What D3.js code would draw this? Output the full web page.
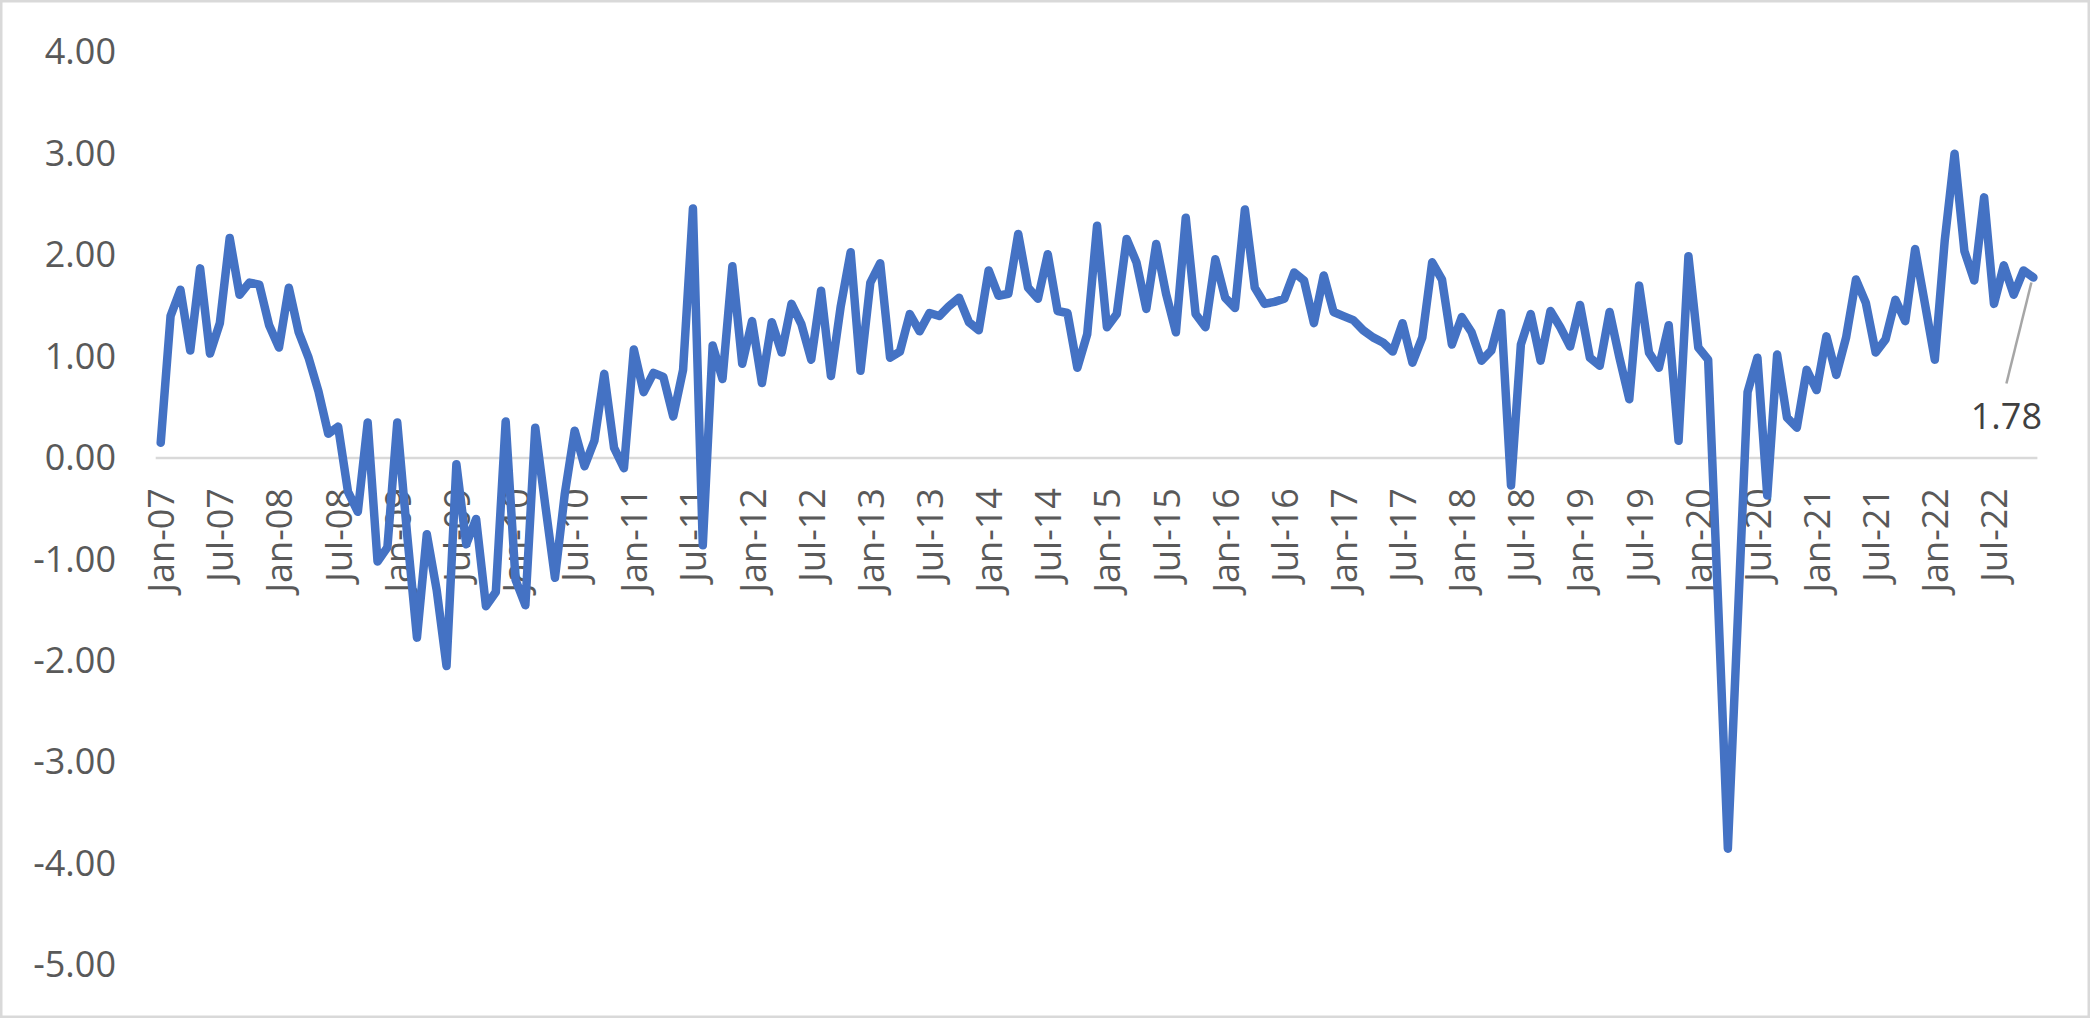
<html>

<head>
<meta charset="utf-8">
<style>
    body { margin: 0; background: #ffffff; }
    text { font-family: "Open Sans", sans-serif; }
</style>
</head>

<body>
    <svg id="container" width="2090" height="1018"></svg>
</body>
<script src="https://cdn.jsdelivr.net/npm/d3@7"></script>
<script>
    // monthly values, one array per year
    let v2007 = [0.15, 1.40, 1.66, 1.06, 1.87, 1.03, 1.33, 2.17, 1.61, 1.73, 1.71, 1.31]
    let v2008 = [1.09, 1.68, 1.24, 0.99, 0.66, 0.24, 0.31, -0.33, -0.53, 0.35, -1.02, -0.88]
    let v2009 = [0.35, -0.75, -1.77, -0.75, -1.30, -2.05, -0.06, -0.85, -0.60, -1.46, -1.32, 0.36]
    let v2010 = [-1.20, -1.45, 0.30, -0.45, -1.18, -0.35, 0.27, -0.08, 0.17, 0.83, 0.10, -0.10]
    let v2011 = [1.07, 0.65, 0.84, 0.80, 0.41, 0.87, 2.46, -0.86, 1.11, 0.78, 1.89, 0.93]
    let v2012 = [1.35, 0.74, 1.34, 1.04, 1.52, 1.32, 0.97, 1.65, 0.81, 1.50, 2.03, 0.86]
    let v2013 = [1.73, 1.92, 0.99, 1.05, 1.42, 1.25, 1.43, 1.40, 1.50, 1.58, 1.34, 1.26]
    let v2014 = [1.85, 1.60, 1.62, 2.21, 1.68, 1.57, 2.01, 1.45, 1.43, 0.89, 1.22, 2.29]
    let v2015 = [1.29, 1.42, 2.16, 1.93, 1.47, 2.11, 1.62, 1.24, 2.37, 1.42, 1.29, 1.96]
    let v2016 = [1.58, 1.48, 2.45, 1.68, 1.52, 1.54, 1.57, 1.83, 1.75, 1.33, 1.80, 1.44]
    let v2017 = [1.40, 1.36, 1.26, 1.19, 1.14, 1.05, 1.33, 0.94, 1.19, 1.93, 1.76, 1.12]
    let v2018 = [1.39, 1.24, 0.96, 1.06, 1.43, -0.27, 1.12, 1.42, 0.96, 1.45, 1.29, 1.10]
    let v2019 = [1.51, 0.99, 0.91, 1.44, 0.99, 0.58, 1.70, 1.04, 0.89, 1.31, 0.17, 1.99]
    let v2020 = [1.09, 0.97, -1.40, -3.85, -1.60, 0.65, 0.99, -0.37, 1.02, 0.40, 0.30, 0.87]
    let v2021 = [0.67, 1.20, 0.82, 1.19, 1.76, 1.53, 1.04, 1.17, 1.56, 1.35, 2.06, 1.52]
    let v2022 = [0.97, 2.14, 3.00, 2.04, 1.75, 2.57, 1.52, 1.90, 1.61, 1.85, 1.78]

    let values = [].concat(v2007, v2008, v2009, v2010, v2011, v2012, v2013, v2014,
                           v2015, v2016, v2017, v2018, v2019, v2020, v2021, v2022)

    // categories: one per month starting Jan-07
    let firstMonth = new Date(2007, 0, 1)
    let months = d3.timeMonth.range(firstMonth, d3.timeMonth.offset(firstMonth, values.length))
    let monthLabel = d3.timeFormat("%b-%y")
    let categories = months.map(monthLabel)

    // x tick labels every six months, y ticks every 1.00
    let xTickLabels = categories.filter((c, i) => i % 6 == 0)
    let yTicks = [4, 3, 2, 1, 0, -1, -2, -3, -4, -5]

    let svg = d3.select("#container")

    // chart border
    svg.append("rect")
        .attr("x", 1.25).attr("y", 1.25)
        .attr("width", 2090 - 2.5).attr("height", 1018 - 2.5)
        .attr("fill", "#ffffff")
        .attr("stroke", "#d9d9d9")
        .attr("stroke-width", 2.5)

    let x = d3.scalePoint()
        .domain(categories)
        .range([160.7, 2033.4])

    let y = d3.scaleLinear()
        .domain([-5, 4])
        .range([965.3, 52.3])

    let locale = d3.formatLocale({ decimal: ".", thousands: ",", grouping: [3], currency: ["", ""], minus: "-" })
    let fmt = locale.format(".2f")

    // y axis labels (no line, no ticks)
    let yAxis = svg.append("g")
        .attr("transform", "translate(116,0)")
        .call(d3.axisLeft(y).tickValues(yTicks).tickFormat(fmt).tickSize(0).tickPadding(0))
    yAxis.select(".domain").remove()
    yAxis.selectAll("text")
        .attr("font-family", "Open Sans")
        .attr("font-size", 36)
        .attr("fill", "#595959")

    // horizontal axis line at zero
    svg.append("line")
        .attr("x1", x(categories[0]) - 5)
        .attr("x2", x(categories[categories.length - 1]) + 4)
        .attr("y1", y(0)).attr("y2", y(0))
        .attr("stroke", "#d9d9d9")
        .attr("stroke-width", 2.5)

    // x axis labels hang below the zero line, rotated
    let xAxis = svg.append("g")
        .attr("transform", `translate(0,${y(0)})`)
        .call(d3.axisBottom(x).tickValues(xTickLabels).tickSize(0))
    xAxis.select(".domain").remove()
    xAxis.selectAll("text")
        .attr("transform", "rotate(-90)")
        .attr("x", -30)
        .attr("y", 0)
        .attr("dy", "0.36em")
        .attr("text-anchor", "end")
        .attr("font-family", "Open Sans")
        .attr("font-size", 36)
        .attr("fill", "#595959")

    // the series
    let line = d3.line()
        .x((d, i) => x(categories[i]))
        .y(d => y(d))

    svg.append("path")
        .datum(values)
        .attr("d", line)
        .attr("fill", "none")
        .attr("stroke", "#4472c4")
        .attr("stroke-width", 8.5)
        .attr("stroke-linejoin", "round")
        .attr("stroke-linecap", "round")

    // data label on the last point with a leader line
    let lastI = values.length - 1
    let px = x(categories[lastI])
    let py = y(values[lastI])

    svg.append("line")
        .attr("x1", px - 2).attr("y1", py + 5)
        .attr("x2", px - 27).attr("y2", py + 106)
        .attr("stroke", "#a6a6a6")
        .attr("stroke-width", 2.5)

    svg.append("text")
        .attr("x", px - 27)
        .attr("y", py + 151)
        .attr("text-anchor", "middle")
        .attr("font-family", "Open Sans")
        .attr("font-size", 36)
        .attr("fill", "#404040")
        .text(fmt(values[lastI]))
</script>

</html>
